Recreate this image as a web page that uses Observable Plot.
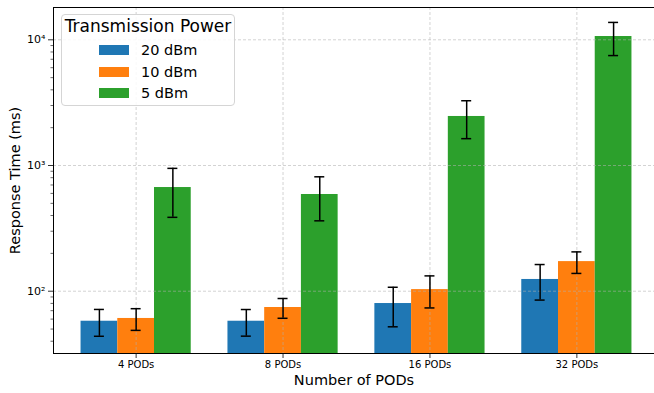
<!DOCTYPE html>
<html>
<head>
<meta charset="utf-8">
<script src="https://cdn.jsdelivr.net/npm/d3@7"></script>
<script src="https://cdn.jsdelivr.net/npm/@observablehq/plot@0.6"></script>
<style>
  html, body { margin: 0; padding: 0; background: #fff; overflow: hidden; }
  #wrap { position: relative; width: 654px; height: 393px; overflow: hidden; font-family: "DejaVu Sans", sans-serif; }
  #wrap svg { display: block; }
  #legend { position: absolute; left: 61px; top: 14px; width: 174px; height: 92px;
    border: 1px solid #d5d5d5; border-radius: 4px; background: rgba(255,255,255,0.85); box-sizing: border-box; }
  #legend .title { position: absolute; left: 0; right: 0; top: 1px; text-align: center; font-size: 17px; color: #000; }
  #legend .item { position: absolute; left: 37px; height: 20px; font-size: 14.5px; color: #000; }
  #legend .sw { position: absolute; left: 0; top: 5px; width: 30px; height: 10px; }
  #legend .lb { position: absolute; left: 42px; top: 0; white-space: nowrap; line-height: 20px; }
</style>
</head>
<body>
<div id="wrap"></div>
<script>
// ---- data ----
const categories = ["4 PODs", "8 PODs", "16 PODs", "32 PODs"];
const series = ["20 dBm", "10 dBm", "5 dBm"];
const colors = ["#1f77b4", "#ff7f0e", "#2ca02c"];
const mean20 = [57.7, 57.7, 79.8, 124];
const std20  = [13.9, 13.8, 27.7, 39];
const mean10 = [60.7, 74.2, 103, 172];
const std10  = [11.9, 13.3, 29.4, 33.5];
const mean5  = [668, 588, 2455, 10620];
const std5   = [281, 225, 820, 3130];
const yMajorTicks = [100, 1000, 10000];
const yTickLabels = ["10\u00B2", "10\u00B3", "10\u2074"];
const yDomain = [31.95, 18070];
const xDomain = [-0.5625, 3.5625];

const means = [mean20, mean10, mean5];
const stds = [std20, std10, std5];
const rows = [];
series.forEach((s, si) => categories.forEach((c, ci) => {
  rows.push({series: s, si, cat: c, ci, mean: means[si][ci], std: stds[si][ci]});
}));
const bw = 0.25;
const center = d => d.ci + (d.si - 1) * bw;

const minor = [];
for (let e = 1; e <= 4; e++) for (let k = 2; k <= 9; k++) {
  const v = k * Math.pow(10, e);
  if (v >= yDomain[0] && v <= yDomain[1]) minor.push(v);
}

const gridStyle = {stroke: "#b0b0b0", strokeOpacity: 0.7, strokeWidth: 0.8, strokeDasharray: "3,2"};

const chart = Plot.plot({
  width: 654,
  height: 393,
  marginLeft: 53,
  marginRight: -5,
  marginTop: 7,
  marginBottom: 40,
  style: {fontFamily: "DejaVu Sans, sans-serif", background: "#fff", color: "#000"},
  x: {type: "linear", domain: xDomain, label: null},
  y: {type: "log", domain: yDomain, label: null},
  color: {domain: series, range: colors},
  marks: [
    Plot.rectY(rows, {x1: d => center(d) - bw / 2, x2: d => center(d) + bw / 2, y1: yDomain[0] / 2, y2: "mean", fill: "series", clip: true}),
    Plot.gridY({ticks: yMajorTicks, ...gridStyle}),
    Plot.gridX({ticks: d3.range(categories.length), ...gridStyle}),
    Plot.ruleX(rows, {x: center, y1: d => d.mean - d.std, y2: d => d.mean + d.std, stroke: "#000", strokeWidth: 1.5}),
    Plot.ruleY(rows, {y: d => d.mean + d.std, x1: d => center(d) - 0.034, x2: d => center(d) + 0.034, stroke: "#000", strokeWidth: 1.5}),
    Plot.ruleY(rows, {y: d => d.mean - d.std, x1: d => center(d) - 0.034, x2: d => center(d) + 0.034, stroke: "#000", strokeWidth: 1.5}),
    Plot.axisY({anchor: "left", ticks: minor, tickSize: 2.5, tickFormat: () => "", label: null, strokeWidth: 0.6}),
    Plot.axisY({anchor: "left", ticks: yMajorTicks, tickSize: 5, tickPadding: 3, tickFormat: (d) => yTickLabels[yMajorTicks.indexOf(d)], fontSize: 11, label: null, strokeWidth: 0.8}),
    Plot.axisX({anchor: "bottom", ticks: d3.range(categories.length), tickFormat: i => categories[i], tickSize: 5, tickPadding: 2, fontSize: 10, label: null, strokeWidth: 0.8}),
    Plot.ruleY([yDomain[0], yDomain[1]], {stroke: "#000", strokeWidth: 1}),
    Plot.ruleX([xDomain[0]], {stroke: "#000", strokeWidth: 1}),
    Plot.text(["Response Time (ms)"], {frameAnchor: "left", rotate: -90, dx: -38, fontSize: 14.5, textAnchor: "middle", lineAnchor: "middle", fill: "#000"}),
    Plot.text(["Number of PODs"], {frameAnchor: "bottom", dy: 27, dx: -2.5, fontSize: 14.5, textAnchor: "middle", lineAnchor: "middle", fill: "#000"})
  ]
});

const wrap = document.getElementById("wrap");
wrap.appendChild(chart);

// legend
const lg = document.createElement("div");
lg.id = "legend";
const t = document.createElement("div");
t.className = "title";
t.textContent = "Transmission Power";
lg.appendChild(t);
series.forEach((s, i) => {
  const it = document.createElement("div");
  it.className = "item";
  it.style.top = (25 + i * 21.7) + "px";
  const sw = document.createElement("div");
  sw.className = "sw";
  sw.style.background = colors[i];
  const lb = document.createElement("div");
  lb.className = "lb";
  lb.textContent = s;
  it.appendChild(sw); it.appendChild(lb);
  lg.appendChild(it);
});
wrap.appendChild(lg);
</script>
</body>
</html>
